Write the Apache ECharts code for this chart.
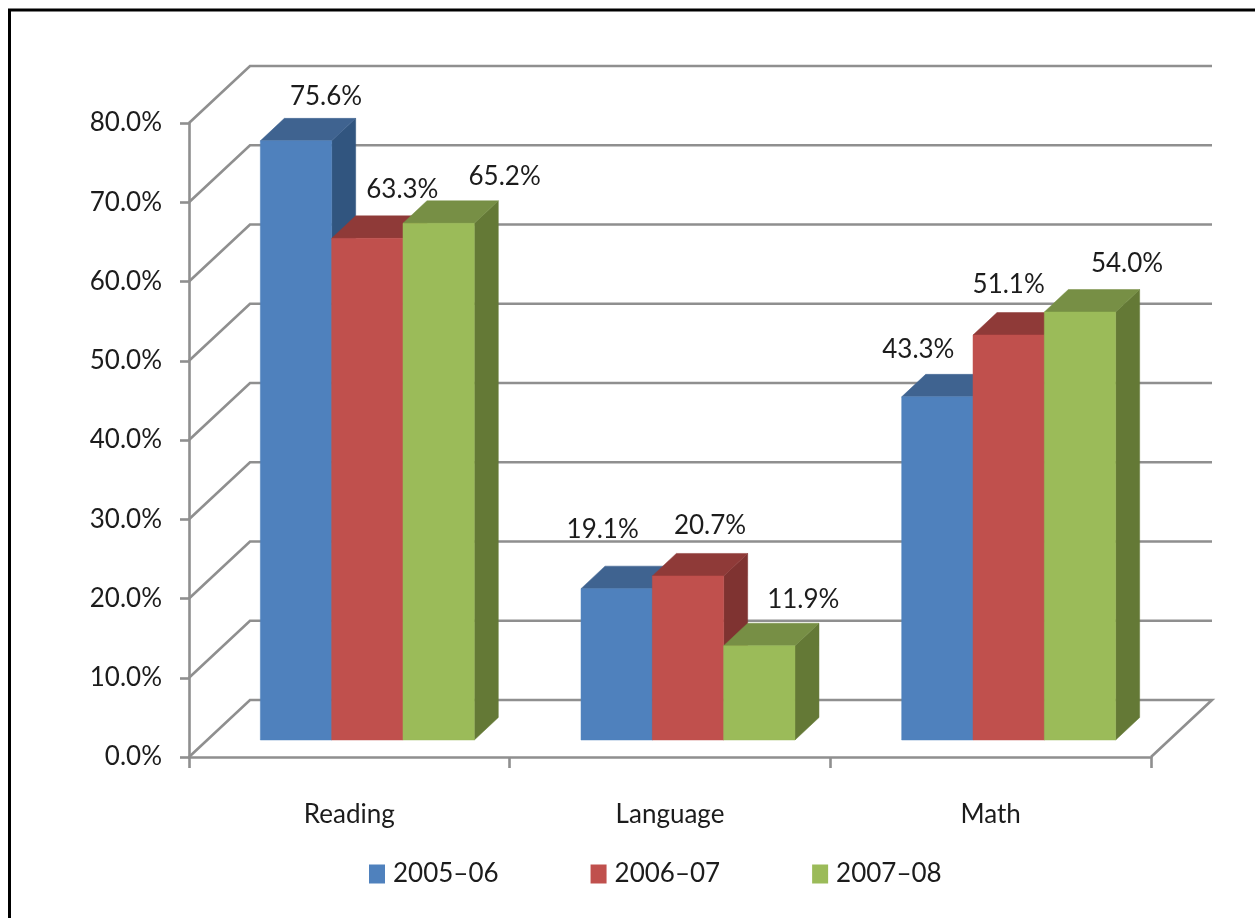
<!DOCTYPE html>
<html>
<head>
<meta charset="utf-8">
<style>html,body{margin:0;padding:0;background:#fff}#c{width:1255px;height:918px}</style>
<script src="https://cdn.jsdelivr.net/npm/echarts@6/dist/echarts.min.js"></script>
</head>
<body>
<div id="c"></div>
<script>
const categories = ['Reading', 'Language', 'Math'];
const seriesNames = ['2005–06', '2006–07', '2007–08'];
const values2005 = [75.6, 19.1, 43.3];
const values2006 = [63.3, 20.7, 51.1];
const values2007 = [65.2, 11.9, 54.0];
const yTicks = [0, 10, 20, 30, 40, 50, 60, 70, 80];

const labelNudge2005 = [[30, -44], [-14, -59], [-19, -47]];
const labelNudge2006 = [[35, -49], [22, -50], [0, -50]];
const labelNudge2007 = [[66, -47], [44, -46], [47, -48]];

const FONT = 'Lato,"Open Sans",sans-serif';
const FONT_SIZE = 26;
const TEXT = '#1c1c1c';
const LINE = '#8f8f8f';
const LINE_W = 2.6;
const WALL = [61, -57];      // back wall offset from the front plane
const PLANE = [18, -17];     // bar front plane offset from the axis plane
const DEPTH = [24, -22.5];   // bar depth
const BAR_FRAC = 0.2224;

const shades = [
  {front: '#4F81BD', top: '#3F6390', side: '#31557F'},
  {front: '#C0504D', top: '#8F3A38', side: '#7F3331'},
  {front: '#9BBB59', top: '#778F45', side: '#647936'}
];

function poly(points, fill) {
  return {type: 'polygon', shape: {points}, style: {fill, stroke: fill, lineWidth: 0.5}};
}

function barSeries(name, values, nudges, idx) {
  const c = shades[idx];
  return {
    name, type: 'custom', coordinateSystem: 'cartesian2d',
    itemStyle: {color: c.front},
    data: values.map((v, i) => [i, v]),
    renderItem(params, api) {
      const i = api.value(0), v = api.value(1);
      const w = api.size([1, 0])[0] * BAR_FRAC;
      const top = api.coord([i, v]), base = api.coord([i, 0]);
      const x0 = top[0] + PLANE[0] + (idx - 1.5) * w, x1 = x0 + w;
      const yt = top[1] + PLANE[1], yb = base[1] + PLANE[1];
      const [dx, dy] = DEPTH;
      const n = nudges[i];
      return {type: 'group', children: [
        poly([[x1, yt], [x1 + dx, yt + dy], [x1 + dx, yb + dy], [x1, yb]], c.side),
        poly([[x0, yt], [x0 + dx, yt + dy], [x1 + dx, yt + dy], [x1, yt]], c.top),
        poly([[x0, yt], [x1, yt], [x1, yb], [x0, yb]], c.front),
        {type: 'text', z2: 50, style: {
          text: v.toFixed(1) + '%', x: (x0 + x1) / 2 + n[0], y: yt + n[1],
          align: 'center', verticalAlign: 'middle', fill: TEXT,
          font: FONT_SIZE + 'px ' + FONT
        }}
      ]};
    }
  };
}

const wallSeries = {
  type: 'custom', coordinateSystem: 'cartesian2d', silent: true, z: 1,
  data: yTicks.map(t => [0, t]),
  renderItem(params, api) {
    const v = api.value(1);
    const cs = params.coordSys;
    const y = api.coord([0, v])[1];
    const x = cs.x, r = cs.x + cs.width;
    const st = {stroke: LINE, lineWidth: LINE_W, fill: 'none'};
    const pts = [[x, y], [x + WALL[0], y + WALL[1]], [r + WALL[0], y + WALL[1]]];
    if (v === 0) pts.push([r, y]);
    return {type: 'polyline', shape: {points: pts}, style: st};
  }
};

const chart = echarts.init(document.getElementById('c'), null, {renderer: 'canvas'});
chart.setOption({
  animation: false,
  backgroundColor: '#fff',
  graphic: [{
    type: 'polyline', silent: true,
    shape: {points: [[9.5, 918], [9.5, 10], [1255, 10]]},
    style: {stroke: '#000', lineWidth: 3, fill: 'none'}
  }],
  legend: {
    left: 364, top: 856, itemWidth: 16, itemHeight: 19, itemGap: 92,
    icon: 'rect',
    data: seriesNames,
    selectedMode: false,
    textStyle: {fontFamily: FONT, fontSize: FONT_SIZE, color: TEXT, padding: [0, 0, 0, 3]}
  },
  grid: {left: 189, right: 104, top: 123, bottom: 161, containLabel: false},
  xAxis: {
    type: 'category', data: categories,
    axisLine: {lineStyle: {color: LINE, width: LINE_W}},
    axisTick: {show: true, length: 11, alignWithLabel: false, lineStyle: {color: LINE, width: LINE_W}},
    axisLabel: {margin: 43, fontFamily: FONT, fontSize: FONT_SIZE, color: TEXT, lineHeight: 30}
  },
  yAxis: {
    type: 'value', min: 0, max: 80, interval: 10,
    axisLine: {show: true, lineStyle: {color: LINE, width: LINE_W}},
    axisTick: {show: true, length: 9, lineStyle: {color: LINE, width: LINE_W}},
    splitLine: {show: false},
    axisLabel: {
      margin: 27, fontFamily: FONT, fontSize: FONT_SIZE, color: TEXT,
      padding: [8, 0, 0, 0],
      formatter: v => v.toFixed(1) + '%'
    }
  },
  series: [
    wallSeries,
    barSeries(seriesNames[0], values2005, labelNudge2005, 0),
    barSeries(seriesNames[1], values2006, labelNudge2006, 1),
    barSeries(seriesNames[2], values2007, labelNudge2007, 2)
  ]
});
</script>
</body>
</html>
